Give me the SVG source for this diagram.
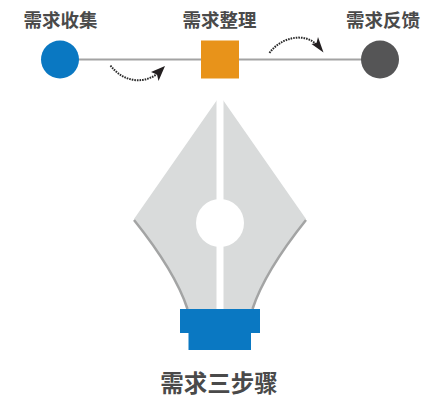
<svg xmlns="http://www.w3.org/2000/svg" width="421" height="398" viewBox="0 0 421 398">
<style>
.t{font-family:"Noto Sans CJK SC","Liberation Sans",sans-serif;fill:#4a4a4a;font-weight:700;text-anchor:middle}
.s{font-size:18.500px}
.arc{fill:none;stroke:#2a2a2a;stroke-width:2;stroke-dasharray:1.6 1}
.head{fill:#231f20}
</style>
<rect width="421" height="398" fill="#fff"/>
<g id="connectors">
<line x1="78" y1="59.500" x2="362" y2="59.500" stroke="#a3a3a3" stroke-width="2"/>
<path class="arc" d="M110.500 65.500C122 81 142 85 157 74"/>
<path class="head" d="M165 66L151 72L157 74.500L158.500 81Z"/>
<path class="arc" d="M269.500 53C280 38 303 32 316 44"/>
<path class="head" d="M323.500 52.500L311.500 44L316.500 43L318 37Z"/>
</g>
<g id="node-collect"><circle cx="60" cy="59.500" r="19" fill="#0a78c2"/><text class="t s" x="60.500" y="27">需求收集</text></g>
<g id="node-organize"><rect x="201" y="40.500" width="38" height="38" fill="#e8931a"/><text class="t s" x="219.500" y="27">需求整理</text></g>
<g id="node-feedback"><circle cx="380" cy="59.500" r="19" fill="#555556"/><text class="t s" x="383" y="27">需求反馈</text></g>
<g id="nib">
<path d="M217 100L134 219C158 250 179 280 188 309H252C261 280 282 250 306 219L223 100Z" fill="#d9dbdb"/>
<rect x="216.500" y="96" width="7" height="214" fill="#fff"/>
<circle cx="220" cy="223" r="24" fill="#fff"/>
<path d="M134 220C158 250 178 280 187.500 309" fill="none" stroke="#a3a4a4" stroke-width="2.500"/>
<path d="M306 220C282 250 262 280 252.500 309" fill="none" stroke="#a3a4a4" stroke-width="2.500"/>
<path d="M180 309H260V333H251V350H188.500V333H180Z" fill="#0a78c2"/>
</g>
<text class="t" x="219" y="391.500" font-size="23.500">需求三步骤</text>
</svg>
